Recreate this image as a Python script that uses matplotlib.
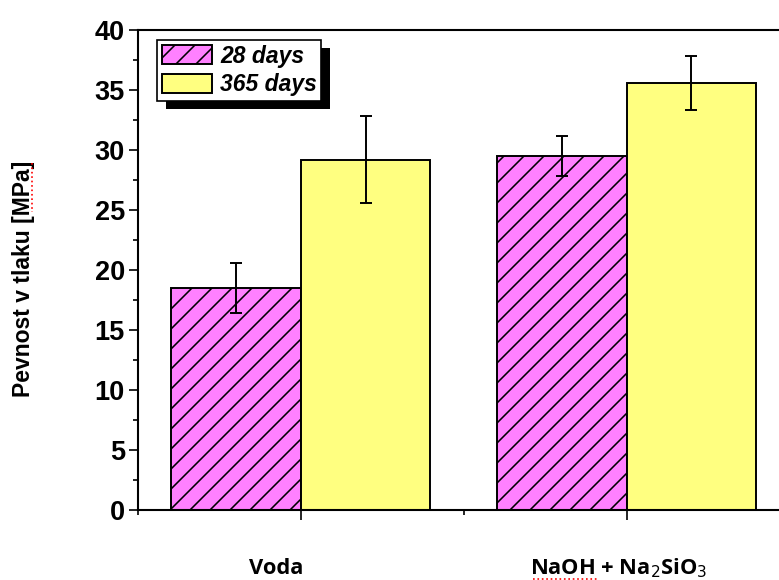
import matplotlib
matplotlib.use("Agg")
import matplotlib.pyplot as plt
import numpy as np
from matplotlib.patches import Rectangle
from matplotlib.lines import Line2D
import matplotlib.transforms as mtransforms

categories = ["Voda", "NaOH + Na$_2$SiO$_3$"]
series_names = ["28 days", "365 days"]
values_28 = [18.5, 29.5]
values_365 = [29.2, 35.55]
err_28 = [2.1, 1.7]
err_365 = [3.6, 2.25]

DPI = 120
k = 100 / DPI  # sizes below are designed for 100 dpi; scale to keep pixel sizes

plt.rcParams['font.family'] = ['Liberation Sans', 'DejaVu Sans']
plt.rcParams['hatch.linewidth'] = 1.15 * k
plt.rcParams['hatch.color'] = 'black'

fig = plt.figure(figsize=(779 / DPI, 580 / DPI), dpi=DPI)
ax = fig.add_axes([138/779, 70/580, 651.4/779, 480/580])

x = np.arange(len(categories))
w = 0.398
ax.bar(x - w/2, values_28, w, color='#FF80FF', edgecolor='black', linewidth=1.4 * k,
       hatch='//', label=series_names[0], zorder=2)
ax.bar(x + w/2, values_365, w, color='#FFFF80', edgecolor='black', linewidth=1.4 * k,
       label=series_names[1], zorder=2)
ax.errorbar(x - w/2, values_28, yerr=err_28, fmt='none', ecolor='black', elinewidth=1.4 * k,
            capsize=4.5 * k, capthick=1.4 * k, zorder=3)
ax.errorbar(x + w/2, values_365, yerr=err_365, fmt='none', ecolor='black', elinewidth=1.4 * k,
            capsize=4.5 * k, capthick=1.4 * k, zorder=3)

ax.set_xlim(-0.5, 1.5)
ax.set_ylim(0, 40)
ax.set_yticks(np.arange(0, 41, 5))
ax.set_yticks(np.arange(2.5, 40, 5), minor=True)
ax.set_xticks([0, 1])
ax.set_xticklabels(['', ''])
ax.set_xticks([-0.5, 0.5, 1.5], minor=True)
for s in ax.spines.values():
    s.set_linewidth(1.5 * k)
ax.tick_params(axis='both', which='major', direction='out', length=6.5 * k, width=1.2 * k,
               labelsize=19.5 * k, pad=3 * k)
ax.tick_params(axis='both', which='minor', direction='out', length=3.5 * k, width=1.2 * k)
ax.tick_params(axis='x', which='major', length=7 * k)
for lab in ax.get_yticklabels():
    lab.set_fontweight('bold')

ax.set_ylabel("Pevnost v tlaku [MPa]", fontsize=16.5 * k, fontweight='bold')
ax.yaxis.set_label_coords(-0.158, 0.481)

trans = mtransforms.blended_transform_factory(ax.transData, fig.transFigure)
ax.text(-0.075, 12/580, categories[0], transform=trans, ha='center', va='center',
        fontsize=15.8 * k, fontweight='bold', family=['Open Sans', 'DejaVu Sans'])
ax.text(0.975, 12/580, categories[1], transform=trans, ha='center', va='center',
        fontsize=15.8 * k, fontweight='bold', family=['Open Sans', 'DejaVu Sans'])

leg = ax.legend(loc='upper left', bbox_to_anchor=(19/651.4, 1 - 10/480),
                prop={'style': 'italic', 'weight': 'bold', 'size': 16.5 * k}, frameon=True,
                fancybox=False, edgecolor='black', framealpha=1, borderpad=0.2,
                labelspacing=0.25, handlelength=2.2, handleheight=0.9, handletextpad=0.35,
                borderaxespad=0)
leg.get_frame().set_linewidth(1.2 * k)
leg.set_zorder(10)

fig.canvas.draw()
bb = leg.get_window_extent()
shadow = Rectangle((bb.x0 + 9, bb.y0 - 8), bb.width, bb.height, transform=None,
                   facecolor='black', edgecolor='none', zorder=9)
ax.add_artist(shadow)

# red spell-check squiggles
fig.add_artist(Line2D([32/779, 32/779], [1 - 163/580, 1 - 212/580], color='red',
                      linestyle=':', linewidth=1.2 * k))
fig.add_artist(Line2D([533/779, 599/779], [1 - 579/580, 1 - 579/580], color='red',
                      linestyle=':', linewidth=1.2 * k))

fig.savefig("out.png", dpi=DPI)
